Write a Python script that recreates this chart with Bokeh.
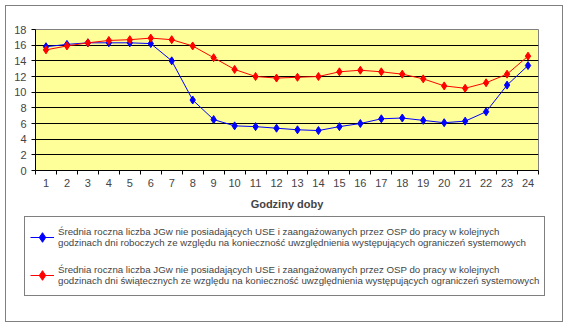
from bokeh.plotting import figure
from bokeh.layouts import column
from bokeh.models import (FixedTicker, Legend, LegendItem, Range1d)
from bokeh.embed import file_html
from bokeh.resources import INLINE

hours = list(range(1, 25))
x_labels = [str(h) for h in hours]
y_ticks = list(range(0, 19, 2))
workdays = [15.8, 16.1, 16.3, 16.3, 16.3, 16.2, 14.0, 9.0, 6.5, 5.7, 5.6, 5.4,
            5.2, 5.1, 5.6, 6.0, 6.6, 6.7, 6.4, 6.1, 6.3, 7.5, 10.9, 13.4]
holidays = [15.4, 15.9, 16.3, 16.6, 16.7, 16.9, 16.7, 15.9, 14.4, 12.9, 12.0, 11.8,
            11.9, 12.0, 12.6, 12.8, 12.6, 12.3, 11.7, 10.8, 10.5, 11.2, 12.3, 14.6]
label_work = ("Średnia roczna liczba JGw nie posiadających USE i zaangażowanych przez OSP do pracy w kolejnych\n"
              "godzinach dni roboczych ze względu na konieczność uwzględnienia występujących ograniczeń systemowych")
label_hol = ("Średnia roczna liczba JGw nie posiadających USE i zaangażowanych przez OSP do pracy w kolejnych\n"
             "godzinach dni świątecznych ze względu na konieczność uwzględnienia występujących ograniczeń systemowych")
x_title = "Godziny doby"

FONT = "Liberation Sans"
BLUE = "#0000FF"
RED = "#FF0000"

p = figure(width=556, height=208, output_backend="svg", toolbar_location=None,
           x_range=Range1d(0.5, 24.5), y_range=Range1d(0, 18),
           min_border_left=29, min_border_right=24, min_border_top=23, min_border_bottom=44)
p.frame_align = False
p.background_fill_color = "#FFFF99"
p.border_fill_color = "white"
p.outline_line_color = "#808080"
p.outline_line_width = 1

p.xgrid.grid_line_color = None
p.ygrid.grid_line_color = "black"
p.ygrid.grid_line_width = 1
p.ygrid.ticker = FixedTicker(ticks=y_ticks)

xa = p.xaxis[0]
xa.ticker = FixedTicker(ticks=hours, minor_ticks=[h - 0.5 for h in hours] + [24.5])
xa.major_label_overrides = {h: l for h, l in zip(hours, x_labels)}
xa.major_tick_line_color = None
xa.minor_tick_line_color = "black"
xa.minor_tick_in = 0
xa.minor_tick_out = 4
xa.axis_line_color = "black"
xa.major_label_text_font = FONT
xa.major_label_text_font_size = "11px"
xa.major_label_standoff = 2
xa.axis_label = x_title
xa.axis_label_text_font = FONT
xa.axis_label_text_font_style = "bold"
xa.axis_label_text_font_size = "11px"
xa.axis_label_standoff = 8

ya = p.yaxis[0]
ya.ticker = FixedTicker(ticks=y_ticks)
ya.minor_tick_line_color = None
ya.major_tick_in = 0
ya.major_tick_out = 4
ya.axis_line_color = "black"
ya.major_label_text_font = FONT
ya.major_label_text_font_size = "11px"
ya.major_label_standoff = 5

p.line(hours, workdays, line_color=BLUE, line_width=1)
p.scatter(hours, workdays, marker="diamond", size=8, fill_color=BLUE, line_color=BLUE)
p.line(hours, holidays, line_color=RED, line_width=1)
p.scatter(hours, holidays, marker="diamond", size=8, fill_color=RED, line_color=RED)

# legend panel below the chart (series drawn out of view, only used for legend glyphs)
q = figure(width=556, height=107, output_backend="svg", toolbar_location=None,
           x_range=Range1d(100, 101), y_range=Range1d(100, 101),
           min_border=0)
q.frame_align = False
q.axis.visible = False
q.grid.visible = False
q.outline_line_color = None
q.background_fill_color = "white"
q.border_fill_color = "white"
l1 = q.line(hours, workdays, line_color=BLUE, line_width=1)
s1 = q.scatter(hours, workdays, marker="diamond", size=7, fill_color=BLUE, line_color=BLUE)
l2 = q.line(hours, holidays, line_color=RED, line_width=1)
s2 = q.scatter(hours, holidays, marker="diamond", size=7, fill_color=RED, line_color=RED)

legend = Legend(items=[LegendItem(label=label_work, renderers=[l1, s1]),
                       LegendItem(label=label_hol, renderers=[l2, s2])],
                location=(18, 25), orientation="vertical")
legend.border_line_color = "black"
legend.border_line_width = 1
legend.background_fill_color = "white"
legend.background_fill_alpha = 1
legend.label_text_font = FONT
legend.label_text_font_size = "9.7px"
legend.glyph_width = 24
legend.glyph_height = 30
legend.label_standoff = 4
legend.padding = 5
legend.spacing = 8
legend.margin = 0
q.add_layout(legend, "center")

layout = column(p, q, spacing=0)
layout.width = 558
layout.height = 317
layout.margin = (5, 0, 0, 5)
layout.styles = {"border": "1px solid #808080", "box-sizing": "border-box", "background": "white"}

open("out.html", "w").write(file_html(layout, INLINE))
